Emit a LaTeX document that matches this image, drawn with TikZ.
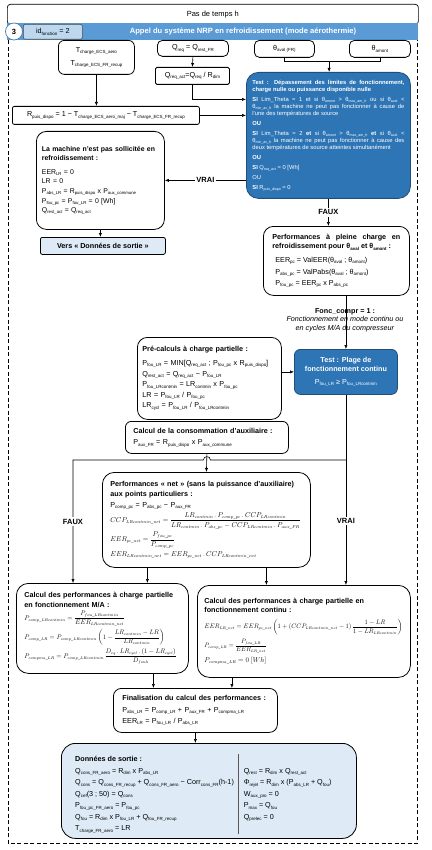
\documentclass[tikz,border=0pt]{standalone}
\usepackage{amsmath}
\usepackage{array}
\usepackage{graphicx}
\usepackage{fontspec}
\setmainfont{Liberation Sans}
\usetikzlibrary{arrows.meta,calc}
\DeclareMathSizes{12}{12}{7}{5}
\definecolor{bandblue}{HTML}{5B9BD5}
\definecolor{testblue}{HTML}{2E75B6}
\definecolor{testborder}{HTML}{1F4E79}
\definecolor{idfill}{HTML}{BDD7EE}
\definecolor{lightfill}{HTML}{DEEBF7}
\newcommand\ssb[1]{\raisebox{-0.35ex}{\scalebox{0.62}{#1}}}
\newcommand\bodyfs{\fontsize{7.2}{9.6}\selectfont}
\newcommand\smallfs{\fontsize{5.8}{7}\selectfont}
\newcommand\fm[2]{\resizebox{#1}{!}{\fontsize{12}{14}\selectfont$\displaystyle #2$}}
\begin{document}
\begin{tikzpicture}[x=1pt,y=-1pt,
  bx/.style={draw=black, line width=0.8pt, fill=white, anchor=north west, inner sep=0pt, font=\bodyfs},
  arr/.style={-{Latex[length=4pt,width=3.2pt]}, line width=0.6pt},
  lbl/.style={font=\bfseries\fontsize{7.5}{9}\selectfont, fill=white, inner sep=1.5pt}]
\useasboundingbox (0,0) rectangle (431,850);
\fill[white] (0,0) rectangle (431,850);

% header
\node[draw, line width=0.7pt, rounded corners=3pt, minimum width=411pt, minimum height=20pt, anchor=north west, inner sep=0pt, font=\fontsize{7.5}{9}\selectfont] (pas) at (7,4) {Pas de temps h};
\node[fill=bandblue, minimum width=411pt, minimum height=17pt, anchor=north west, inner sep=0pt] (band) at (7,23) {};
\node[text=white, font=\bfseries\fontsize{7.6}{9}\selectfont] (title) at (243,31.5) {Appel du système NRP en refroidissement (mode aérothermie)};
\node[circle, draw=bandblue!80!black, line width=0.7pt, fill=white, minimum size=17pt, inner sep=0pt, font=\bfseries\fontsize{7.5}{9}\selectfont] (num) at (14,31.5) {3};
\node[draw=black!70, line width=0.6pt, fill=idfill, rounded corners=2pt, minimum width=59pt, minimum height=15pt, anchor=north west, inner sep=0pt, font=\bodyfs] (idf) at (23,24) {id\ssb{fonction} = 2};
\draw[dash pattern=on 4pt off 2.5pt, line width=0.7pt] ([xshift=1pt]band.south west) -- ++(0,803) -| ([xshift=-1pt]band.south east);

% top row
\node[bx, rounded corners=6pt, minimum width=76pt, minimum height=34pt, align=center] (tbox) at (58,40) {T\ssb{charge\_ECS\_aero}\\[3pt] T\ssb{charge\_ECS\_FR\_recup}};
\node[bx, rounded corners=5pt, minimum width=71pt, minimum height=16pt] (qreq) at (157,40) {Q\ssb{req} = Q\ssb{rest\_FR}};
\node[bx, rounded corners=1.5pt, minimum width=74pt, minimum height=17pt] (qact) at (155,67) {Q\ssb{req\_act}=Q\ssb{req} / R\ssb{dim}};
\node[bx, rounded corners=5pt, minimum width=60pt, minimum height=17pt] (thaval) at (254,40) {θ\ssb{aval (FR)}};
\node[bx, rounded corners=5pt, minimum width=61pt, minimum height=17pt] (thamont) at (349,40) {θ\ssb{amont}};

% test 1
\node[bx, draw=testborder, fill=testblue, text=white, rounded corners=12pt, minimum width=164pt, minimum height=126pt, text width=152pt, align=justify, font=\smallfs] (test) at (246,72) {\textbf{Test : Dépassement des limites de fonctionnement,}\linebreak
\textbf{charge nulle ou puissance disponible nulle}\\[3pt]
\textbf{SI} Lim\_Theta = 1 et si θ\ssb{amont} > θ\ssb{max\_am\_fr} ou si θ\ssb{aval} <\linebreak
θ\ssb{min\_av\_fr} la machine ne peut pas fonctionner à cause de\linebreak
l'une des températures de source\\[3pt]
\textbf{OU}\\[3pt]
\textbf{SI} Lim\_Theta = 2 \textbf{et} si θ\ssb{amont} > θ\ssb{max\_am\_fr} \textbf{et} si θ\ssb{aval} <\linebreak
θ\ssb{min\_av\_fr} la machine ne peut pas fonctionner à cause des\linebreak
deux températures de source atteintes simultanément\\[3pt]
\textbf{OU}\\[3pt]
\textbf{SI} Q\ssb{req\_act} = 0 [Wh]\\[3pt]
OU\\[3pt]
\textbf{SI} R\ssb{puis\_dispo} = 0};

\node[bx, rounded corners=2pt, minimum width=187pt, minimum height=18pt] (rbox) at (12,106) {R\ssb{puis\_dispo} = 1 − T\ssb{charge\_ECS\_aero\_maj} − T\ssb{charge\_ECS\_FR\_recup}};

\node[bx, rounded corners=10pt, minimum width=128pt, minimum height=98pt, text width=117pt, align=left, font=\fontsize{6.9}{9.6}\selectfont] (mach) at (36,131) {\textbf{La machine n'est pas sollicitée en}\\ \textbf{refroidissement :}\\[4pt]
EER\ssb{LR} = 0\\
LR = 0\\
P\ssb{abs\_LR} = R\ssb{puis\_dispo} x P\ssb{aux\_commune}\\
P\ssb{fou\_pc} = P\ssb{fou\_LR} = 0 [Wh]\\
Q\ssb{rest\_act} = Q\ssb{req\_act}};

\node[bx, fill=lightfill, rounded corners=2pt, minimum width=125pt, minimum height=17pt, font=\bodyfs\bfseries] (vers) at (40,237) {Vers « Données de sortie »};

\node[bx, rounded corners=10pt, minimum width=146pt, minimum height=69pt, text width=128pt, align=justify] (perf) at (263,226) {\textbf{Performances à pleine charge en}\linebreak \textbf{refroidissement pour θ\ssb{aval} et θ\ssb{amont} :}\\[4pt]
\hspace*{3pt}EER\ssb{pc} = ValEER(θ\ssb{aval} ; θ\ssb{amont})\\[2pt]
\hspace*{3pt}P\ssb{abs\_pc} = ValPabs(θ\ssb{aval} ; θ\ssb{amont})\\[2pt]
\hspace*{3pt}P\ssb{fou\_pc} = EER\ssb{pc} x P\ssb{abs\_pc}};

\node[bx, draw=testborder, fill=testblue, text=white, rounded corners=6pt, minimum width=103pt, minimum height=45pt, align=center] (plage) at (294,349) {\textbf{Test : Plage de}\\ \textbf{fonctionnement continu}\\[3pt] P\ssb{fou\_LR} ≥ P\ssb{fou\_LRcontmin}};

\node[bx, rounded corners=10pt, minimum width=144pt, minimum height=82pt, text width=134pt, align=left] (pre) at (137,337) {\textbf{Pré-calculs à charge partielle :}\\[4pt]
P\ssb{fou\_LR} = MIN[Q\ssb{req\_act} ; P\ssb{fou\_pc} x R\ssb{puis\_dispo}]\\[1pt]
Q\ssb{rest\_act} = Q\ssb{req\_act} − P\ssb{fou\_LR}\\[1pt]
P\ssb{fou\_LRcontmin} = LR\ssb{contmin} x P\ssb{fou\_pc}\\[1pt]
LR = P\ssb{fou\_LR} / P\ssb{fou\_pc}\\[1pt]
LR\ssb{cycl} = P\ssb{fou\_LR} / P\ssb{fou\_LRcontmin}};

\node[bx, rounded corners=6pt, minimum width=163pt, minimum height=32pt, text width=147pt, align=left] (conso) at (125,421) {\textbf{Calcul de la consommation d'auxiliaire :}\\[2pt] P\ssb{aux\_FR} = R\ssb{puis\_dispo} x P\ssb{aux\_commune}};

\node[bx, rounded corners=12pt, minimum width=208pt, minimum height=95pt, text width=192pt, align=left] (net) at (102,472) {\textbf{Performances « net » (sans la puissance d'auxiliaire)}\\ \textbf{aux points particuliers :}\\[1pt]
P\ssb{comp\_pc} = P\ssb{abs\_pc} − P\ssb{aux\_FR}\\[2pt]
\fm{190pt}{CCP_{LRcontmin\_net} = \frac{LR_{contmin}\,.\,P_{comp\_pc}\,.\,CCP_{LRcontmin}}{LR_{contmin}\,.\,P_{abs\_pc}-CCP_{LRcontmin}\,.\,P_{aux\_FR}}}\\[2pt]
\fm{64pt}{EER_{pc\_net} = \frac{P_{fou\_pc}}{P_{comp\_pc}}}\\[2pt]
\fm{146pt}{EER_{LRcontmin\_net} = EER_{pc\_net}\,.\,CCP_{LRcontmin\_net}}};

\node[bx, rounded corners=12pt, minimum width=172pt, minimum height=90pt, text width=156pt, align=left] (ma) at (16,583) {\textbf{Calcul des performances à charge partielle}\\ \textbf{en fonctionnement M/A :}\\[3.5pt]
\fm{100pt}{P_{comp\_LRcontmin} = \frac{P_{fou\_LRcontmin}}{EER_{LRcontmin\_net}}}\\[2pt]
\fm{140pt}{P_{comp\_LR} = P_{comp\_LRcontmin}\left(1-\frac{LR_{contmin}-LR}{LR_{contmin}}\right)}\\[2pt]
\fm{152pt}{P_{compma\_LR} = P_{comp\_LRcontmin}\,\frac{D_{eq}\,.\,LR_{cycl}\,.\,(1-LR_{cycl})}{D_{fouh}}}};

\node[bx, rounded corners=12pt, minimum width=213pt, minimum height=92pt, text width=199pt, align=left] (cont) at (197,585) {\textbf{Calcul des performances à charge partielle en}\\ \textbf{fonctionnement continu :}\\[5pt]
\fm{198pt}{EER_{LR\_net} = EER_{pc\_net}\left(1+(CCP_{LRcontmin\_net}-1)\,\frac{1-LR}{1-LR_{LRcontmin}}\right)}\\[3pt]
\fm{62pt}{P_{comp\_LR} = \frac{P_{fou\_LR}}{EER_{LR\_net}}}\\[3pt]
\fm{62pt}{P_{compma\_LR} = 0\;[Wh]}};

\node[bx, rounded corners=8pt, minimum width=164pt, minimum height=44pt, text width=146pt, align=left] (fin) at (113,688) {\textbf{Finalisation du calcul des performances :}\\[2pt]
P\ssb{abs\_LR} = P\ssb{comp\_LR} + P\ssb{aux\_FR} + P\ssb{compma\_LR}\\[1pt]
EER\ssb{LR} = P\ssb{fou\_LR} / P\ssb{abs\_LR}};

\node[bx, fill=lightfill, rounded corners=14pt, minimum width=295pt, minimum height=95pt] (don) at (61,743) {};
\node[anchor=west, font=\bodyfs, inner sep=0pt] (dontxt) at ($(don.west)+(14,3)$) {\renewcommand{\arraystretch}{1.2}\begin{tabular}{@{}l@{\hspace{4pt}}!{\color{black!65}\vrule width 0.9pt}@{\hspace{5pt}}l@{}}
\textbf{Données de sortie :} & \\
Q\ssb{cons\_FR\_aero} = R\ssb{dim} x P\ssb{abs\_LR} & Q\ssb{rest} = R\ssb{dim} x Q\ssb{rest\_act}\\
Q\ssb{cons} = Q\ssb{cons\_FR\_recup} + Q\ssb{cons\_FR\_aero} − Corr\ssb{cons\_FR}(h-1) & Φ\ssb{rejet} = R\ssb{dim} x (P\ssb{abs\_LR} + Q\ssb{fou})\\
Q\ssb{cef}(3 ; 50) = Q\ssb{cons} & W\ssb{aux\_pro} = 0\\
P\ssb{fou\_pc\_FR\_aero} = P\ssb{fou\_pc} & P\ssb{max} = Q\ssb{fou}\\
Q\ssb{fou} = R\ssb{dim} x P\ssb{fou\_LR} + Q\ssb{fou\_FR\_recup} & Q\ssb{prelec} = 0\\
T\ssb{charge\_FR\_aero} = LR & \\
\end{tabular}};

% connectors
\draw[arr] (tbox.south) -- (tbox.south |- rbox.north);
\draw[arr] (qreq.south) -- (qact.north);
\draw[arr] (qact.south) |- ([yshift=36pt]test.west);
\draw[arr] (rbox.east) -- (rbox.east -| test.west);
\draw[line width=0.6pt] (thaval.south) -- ++(0,4) -| (thamont.south);
\coordinate (thj) at ($(thaval.south)!0.5!(thamont.south)+(-3,4)$);
\draw[arr] (thj) -- (thj |- test.north);
\draw[arr] (test.west |- mach.east) -- (mach.east) node[lbl, midway] (vrai1) {VRAI};
\draw[arr] (mach.south) -- (mach.south |- vers.north);
\draw[arr] (test.south) -- (test.south |- perf.north) node[lbl, midway] (faux1) {FAUX};
\draw[arr] (plage.north |- perf.south) -- (plage.north);
\node[align=center, font=\fontsize{7.2}{8.6}\selectfont] (fonc) at (345,320) {\textbf{Fonc\_compr = 1 :}\\ \textit{Fonctionnement en mode continu ou}\\ \textit{en cycles M/A du compresseur}};
\draw[arr] (pre.east |- plage.west) -- (plage.west);
\draw[arr] (conso.south) -- (net.north);
\draw[arr] (plage.south) -- (plage.south |- cont.north) node[lbl, pos=0.665] (vrai2) {VRAI};
\coordinate (fx) at (73,460);
\coordinate (hR) at (plage.south |- fx);
\coordinate (jR) at ($(conso.south |- fx)+(3.5,0)$);
\coordinate (jL) at ($(conso.south |- fx)+(-3.5,0)$);
\draw[arr] (hR) -- (jR) .. controls ($(jR)+(0,-4.5)$) and ($(jL)+(0,-4.5)$) .. (jL) -- (fx) -- (fx |- ma.north) node[lbl, pos=0.5] (faux2) {FAUX};
\coordinate (n1) at ($(net.south)+(-59,0)$);
\draw[arr] (n1) -- (n1 |- ma.north);
\coordinate (n2) at ($(net.south)+(60,0)$);
\draw[arr] (n2) -- (n2 |- cont.north);
\coordinate (m1) at ($(ma.south)+(51,0)$);
\draw[arr] (m1) -- (m1 |- fin.north);
\coordinate (c1) at ($(cont.south)+(-72,0)$);
\draw[arr] (c1) -- (c1 |- fin.north);
\draw[arr] (fin.south) -- (fin.south |- don.north);
\end{tikzpicture}
\end{document}
